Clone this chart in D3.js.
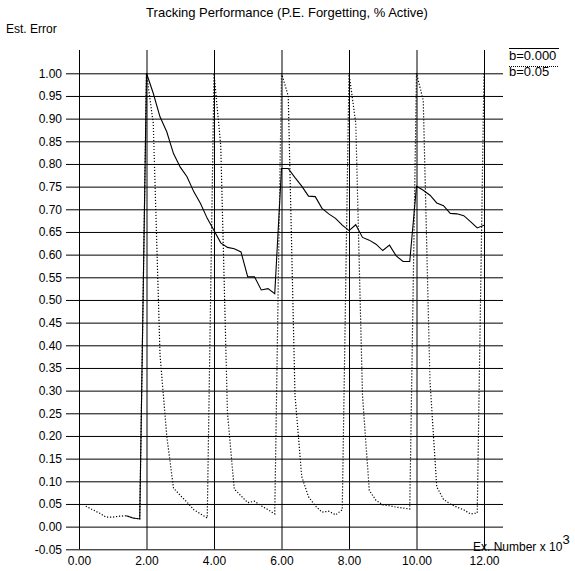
<!DOCTYPE html>
<html>
<head>
<meta charset="utf-8">
<script src="https://cdn.jsdelivr.net/npm/d3@7"></script>
<style>
  html, body { margin: 0; padding: 0; background: #fff; }
  svg { display: block; font-family: "Liberation Sans", Arial, sans-serif; }
</style>
</head>
<body>
<svg id="chart" width="575" height="571"></svg>
<script>
// ---- data ----
const title = "Tracking Performance (P.E. Forgetting, % Active)";
const yTitle = "Est. Error";
const xTitle = "Ex. Number x 10";
const xTitleSup = "3";
const seriesNames = ["b=0.000", "b=0.05"];

const xTicks = [0, 2, 4, 6, 8, 10, 12];
const yTicks = [-0.05, 0.00, 0.05, 0.10, 0.15, 0.20, 0.25, 0.30, 0.35, 0.40, 0.45, 0.50,
                0.55, 0.60, 0.65, 0.70, 0.75, 0.80, 0.85, 0.90, 0.95, 1.00];

const solidX = [1.4, 1.6, 1.8,
  2.0, 2.2, 2.4, 2.6, 2.8, 3.0, 3.2, 3.4, 3.6, 3.8,
  4.0, 4.2, 4.4, 4.6, 4.8, 5.0, 5.2, 5.4, 5.6, 5.8,
  6.0, 6.2, 6.4, 6.6, 6.8, 7.0, 7.2, 7.4, 7.6, 7.8,
  8.0, 8.2, 8.4, 8.6, 8.8, 9.0, 9.2, 9.4, 9.6, 9.8,
  10.0, 10.2, 10.4, 10.6, 10.8, 11.0, 11.2, 11.4, 11.6, 11.8, 12.0];
const solidY = [0.024, 0.019, 0.017,
  1.000, 0.956, 0.904, 0.871, 0.823, 0.793, 0.772, 0.739, 0.713, 0.680,
  0.653, 0.626, 0.616, 0.613, 0.606, 0.551, 0.551, 0.522, 0.525, 0.514,
  0.790, 0.790, 0.770, 0.751, 0.729, 0.728, 0.702, 0.690, 0.680, 0.665,
  0.653, 0.666, 0.638, 0.632, 0.623, 0.609, 0.621, 0.597, 0.585, 0.585,
  0.751, 0.742, 0.731, 0.714, 0.708, 0.691, 0.690, 0.686, 0.673, 0.659, 0.665];

const dottedX = [0.2, 0.4, 0.6, 0.8, 1.0, 1.2, 1.4, 1.6, 1.8,
  2.0, 2.2, 2.4, 2.6, 2.8, 3.0, 3.2, 3.4, 3.6, 3.8,
  4.0, 4.2, 4.4, 4.6, 4.8, 5.0, 5.2, 5.4, 5.6, 5.8,
  6.0, 6.2, 6.4, 6.6, 6.8, 7.0, 7.2, 7.4, 7.6, 7.8,
  8.0, 8.2, 8.4, 8.6, 8.8, 9.0, 9.2, 9.4, 9.6, 9.8,
  10.0, 10.2, 10.4, 10.6, 10.8, 11.0, 11.2, 11.4, 11.6, 11.8, 12.0];
const dottedY = [0.045, 0.0375, 0.030, 0.021, 0.021, 0.023, 0.024, 0.019, 0.017,
  1.000, 0.890, 0.380, 0.200, 0.085, 0.069, 0.054, 0.0375, 0.028, 0.019,
  1.000, 0.840, 0.250, 0.083, 0.068, 0.053, 0.056, 0.046, 0.0375, 0.028,
  1.000, 0.950, 0.290, 0.110, 0.066, 0.046, 0.032, 0.034, 0.026, 0.037,
  1.000, 0.890, 0.290, 0.080, 0.058, 0.048, 0.046, 0.043, 0.041, 0.039,
  1.000, 0.940, 0.320, 0.088, 0.060, 0.050, 0.043, 0.037, 0.028, 0.030,
  1.000];

// ---- layout ----
const svg = d3.select("#chart");
const x = d3.scaleLinear().domain([0, 12]).range([79, 484]);
const y = d3.scaleLinear().domain([-0.05, 1.0]).range([549.3, 73.3]);
const gridLeft = 66, gridRight = 503, vTop = 50;
const fmt = d => d.toFixed(2);

// horizontal grid / y axis
const yAxis = d3.axisLeft(y).tickValues(yTicks).tickFormat(fmt)
  .tickSize(-(gridRight - gridLeft)).tickPadding(4);
const gy = svg.append("g").attr("transform", `translate(${gridLeft},0)`).call(yAxis);
gy.select(".domain").remove();
gy.selectAll("line").attr("stroke", "#000");
gy.selectAll("text").attr("font-size", 12).attr("fill", "#000");

// vertical grid / x axis
const xAxis = d3.axisBottom(x).tickValues(xTicks).tickFormat(fmt)
  .tickSize(-(y(-0.05) - vTop)).tickPadding(7);
const gx = svg.append("g").attr("transform", `translate(0,${y(-0.05)})`).call(xAxis);
gx.select(".domain").remove();
gx.selectAll("line").attr("stroke", "#000");
gx.selectAll("text").attr("font-size", 12).attr("fill", "#000");

// series
const line = d3.line().x(d => x(d[0])).y(d => y(d[1]));
const dotted = d3.zip(dottedX, dottedY);
const solid = d3.zip(solidX, solidY);

svg.append("path").datum(dotted).attr("d", line)
  .attr("fill", "none").attr("stroke", "#000").attr("stroke-width", 1.2)
  .attr("stroke-dasharray", "1.2,1.8");
svg.append("path").datum(solid).attr("d", line)
  .attr("fill", "none").attr("stroke", "#000").attr("stroke-width", 1.1);

// titles
svg.append("text").attr("x", 287).attr("y", 17).attr("text-anchor", "middle")
  .attr("font-size", 13).text(title);
svg.append("text").attr("x", 6).attr("y", 33).attr("font-size", 12).text(yTitle);
const xt = svg.append("text").attr("x", 473).attr("y", 551).attr("font-size", 12);
xt.append("tspan").text(xTitle);
xt.append("tspan").attr("dy", -7).attr("font-size", 13).text(xTitleSup);

// legend
const lg = svg.append("g");
lg.append("line").attr("x1", 509).attr("x2", 559).attr("y1", 48.5).attr("y2", 48.5)
  .attr("stroke", "#000");
lg.append("text").attr("x", 509).attr("y", 59.5).attr("font-size", 13).text(seriesNames[0]);
lg.append("line").attr("x1", 509).attr("x2", 559).attr("y1", 66.5).attr("y2", 66.5)
  .attr("stroke", "#000").attr("stroke-dasharray", "1,1");
lg.append("text").attr("x", 509).attr("y", 75.5).attr("font-size", 13).text(seriesNames[1]);
</script>
</body>
</html>
